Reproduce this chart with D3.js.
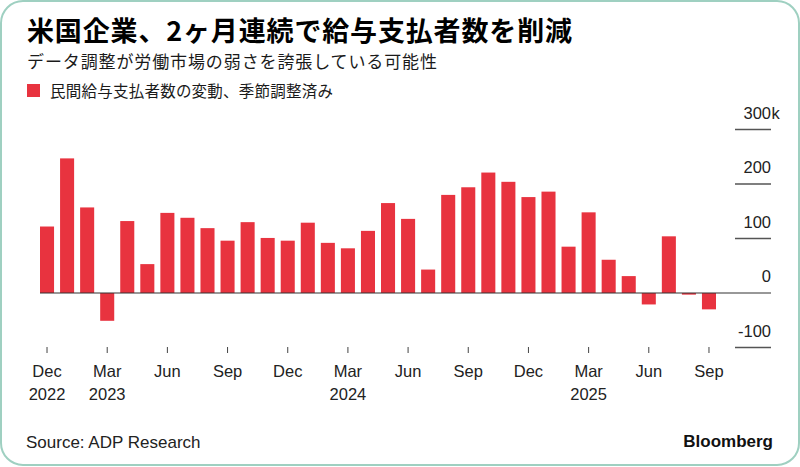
<!DOCTYPE html>
<html>
<head>
<meta charset="utf-8">
<script src="https://cdn.jsdelivr.net/npm/d3@7"></script>
<style>
  html, body { margin: 0; padding: 0; background: #fff; }
  svg { display: block; }
</style>
</head>
<body>
<div id="chart"></div>
<script>
// monthly change in private payrolls, thousands (Dec 2022 .. Sep 2025)
const startMonth = new Date(2022, 11, 1);
const values = [
  122, 247, 157, -51, 132, 53, 147, 138, 119, 96, 130, 101,
  96, 129, 92, 82, 114, 165, 136, 43, 180, 194, 221, 204,
  176, 186, 85, 148, 61, 31, -21, 104, -3, -30
];
const months = d3.timeMonths(startMonth, d3.timeMonth.offset(startMonth, values.length));

const yTicks = [-100, 0, 100, 200, 300];
const yTickLabels = ["-100", "0", "100", "200", "300"];
const yUnit = "k";
const xTickMonths = ["Dec", "Mar", "Jun", "Sep", "Dec", "Mar", "Jun", "Sep", "Dec", "Mar", "Jun", "Sep"];
const xTickYears = ["2022", "2023", "", "", "", "2024", "", "", "", "2025", "", ""];

const title = "米国企業、2ヶ月連続で給与支払者数を削減";
const subtitle = "データ調整が労働市場の弱さを誇張している可能性";
const legendLabel = "民間給与支払者数の変動、季節調整済み";

const width = 800, height = 467;
const red = "#e8333f";
const latin = "'Liberation Sans', Arial, sans-serif";
const cjk = "'Noto Sans CJK JP', 'Noto Sans', sans-serif";

const svg = d3.select("#chart").append("svg")
    .attr("width", width)
    .attr("height", height);

// card frame
svg.append("rect")
    .attr("x", 1).attr("y", 1)
    .attr("width", width - 2).attr("height", height - 3)
    .attr("rx", 22)
    .attr("fill", "#fff")
    .attr("stroke", "#9fd0c1")
    .attr("stroke-width", 2);

svg.append("text")
    .attr("x", 27).attr("y", 41)
    .attr("font-family", cjk)
    .attr("font-weight", 700)
    .attr("font-size", 27)
    .attr("textLength", 545)
    .attr("lengthAdjust", "spacing")
    .attr("fill", "#000")
    .text(title);

svg.append("text")
    .attr("x", 27).attr("y", 68)
    .attr("font-family", cjk)
    .attr("font-size", 17)
    .attr("textLength", 410)
    .attr("lengthAdjust", "spacing")
    .attr("fill", "#1a1a1a")
    .text(subtitle);

svg.append("rect")
    .attr("x", 27).attr("y", 84)
    .attr("width", 13).attr("height", 13)
    .attr("fill", red);

svg.append("text")
    .attr("x", 50).attr("y", 97)
    .attr("font-family", cjk)
    .attr("font-size", 15.5)
    .attr("textLength", 283)
    .attr("lengthAdjust", "spacing")
    .attr("fill", "#1a1a1a")
    .text(legendLabel);

const x = d3.scaleBand()
    .domain(months)
    .range([37, 719])
    .paddingInner(0.3)
    .paddingOuter(0.15);

const y = d3.scaleLinear()
    .domain([-100, 300])
    .range([347.5, 129.5]);

// right-side short gridlines with labels above
const grid = svg.append("g").attr("class", "grid");
yTicks.forEach((t, i) => {
    if (t !== 0) {
        grid.append("line")
            .attr("x1", 735).attr("x2", 771)
            .attr("y1", y(t)).attr("y2", y(t))
            .attr("stroke", "#555")
            .attr("stroke-width", 1.5);
    }
    grid.append("text")
        .attr("x", 771).attr("y", y(t) - 11)
        .attr("text-anchor", "end")
        .attr("font-family", latin)
        .attr("font-size", 16.5)
        .attr("fill", "#222")
        .text(yTickLabels[i]);
    if (i === yTicks.length - 1) {
        grid.append("text")
            .attr("x", 771.5).attr("y", y(t) - 11)
            .attr("font-family", latin)
            .attr("font-size", 16.5)
            .attr("fill", "#222")
            .text(yUnit);
    }
});

svg.append("g")
    .selectAll("rect")
    .data(values)
    .enter()
    .append("rect")
    .attr("x", (d, i) => x(months[i]))
    .attr("width", x.bandwidth())
    .attr("y", d => y(Math.max(0, d)))
    .attr("height", d => Math.max(Math.abs(y(d) - y(0)), 1))
    .attr("fill", red);

// zero line
svg.append("line")
    .attr("x1", 40).attr("x2", 771)
    .attr("y1", y(0)).attr("y2", y(0))
    .attr("stroke", "#333")
    .attr("stroke-width", 1.2);

// x axis ticks every 3 months
const tickDates = months.filter((d, i) => i % 3 === 0);
const xAxis = svg.append("g");
tickDates.forEach((d, i) => {
    const cx = x(d) + x.bandwidth() / 2;
    xAxis.append("line")
        .attr("x1", cx).attr("x2", cx)
        .attr("y1", 347).attr("y2", 353)
        .attr("stroke", "#444")
        .attr("stroke-width", 1);
    xAxis.append("text")
        .attr("x", cx).attr("y", 377)
        .attr("text-anchor", "middle")
        .attr("font-family", latin)
        .attr("font-size", 16.5)
        .attr("fill", "#222")
        .text(xTickMonths[i]);
    if (xTickYears[i]) {
        xAxis.append("text")
            .attr("x", cx).attr("y", 400)
            .attr("text-anchor", "middle")
            .attr("font-family", latin)
            .attr("font-size", 16.5)
            .attr("fill", "#222")
            .text(xTickYears[i]);
    }
});

svg.append("text")
    .attr("x", 26).attr("y", 448)
    .attr("font-family", latin)
    .attr("font-size", 17)
    .attr("fill", "#222")
    .text("Source: ADP Research");

svg.append("text")
    .attr("x", 773).attr("y", 447)
    .attr("text-anchor", "end")
    .attr("font-family", latin)
    .attr("font-weight", 700)
    .attr("font-size", 17)
    .attr("fill", "#111")
    .text("Bloomberg");
</script>
</body>
</html>
